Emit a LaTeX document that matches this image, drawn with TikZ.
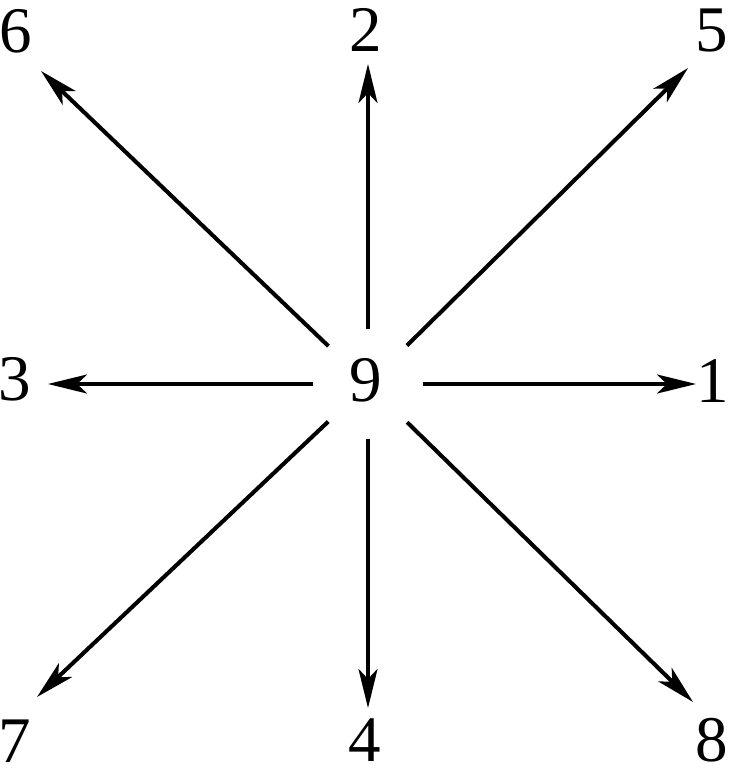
\documentclass[tikz,border=0pt]{standalone}
\usepackage{fontspec}
\setmainfont{Liberation Serif}
\usetikzlibrary{arrows.meta}

\begin{document}
\begin{tikzpicture}[x=0.01cm, y=-0.01cm,
  lbl/.style={inner sep=0pt, font=\fontsize{18.5}{20}\selectfont},
  arr/.style={line width=1.15pt, -{Stealth[length=0.39cm, width=0.19cm, inset=0.1cm]}}]
\useasboundingbox (0,0) rectangle (730,782);

% The centre
\node[circle, inner sep=0pt, minimum size=1.08cm] (hub) at (368,384) {};
\node[lbl] (n9) at (366,380) {9};

% The labels
\node[lbl] (n6) at (16,31) {6};
\node[lbl] (n2) at (366,30) {2};
\node[lbl] (n5) at (712,31) {5};
\node[lbl] (n3) at (15,379) {3};
\node[lbl] (n1) at (713,381) {1};
\node[lbl] (n7) at (15,741) {7};
\node[lbl] (n4) at (365,740) {4};
\node[lbl] (n8) at (712,740) {8};

% The tips
\coordinate (t6) at (41,71);
\coordinate (t2) at (368,64);
\coordinate (t5) at (688,68);
\coordinate (t3) at (48,384);
\coordinate (t1) at (696,384);
\coordinate (t7) at (37,697);
\coordinate (t4) at (368,708);
\coordinate (t8) at (693,702);

% Arrows
\foreach \t in {t1,t2,t3,t4,t5,t6,t7,t8}
  \draw[arr] (hub) -- (\t);

\end{tikzpicture}
\end{document}
